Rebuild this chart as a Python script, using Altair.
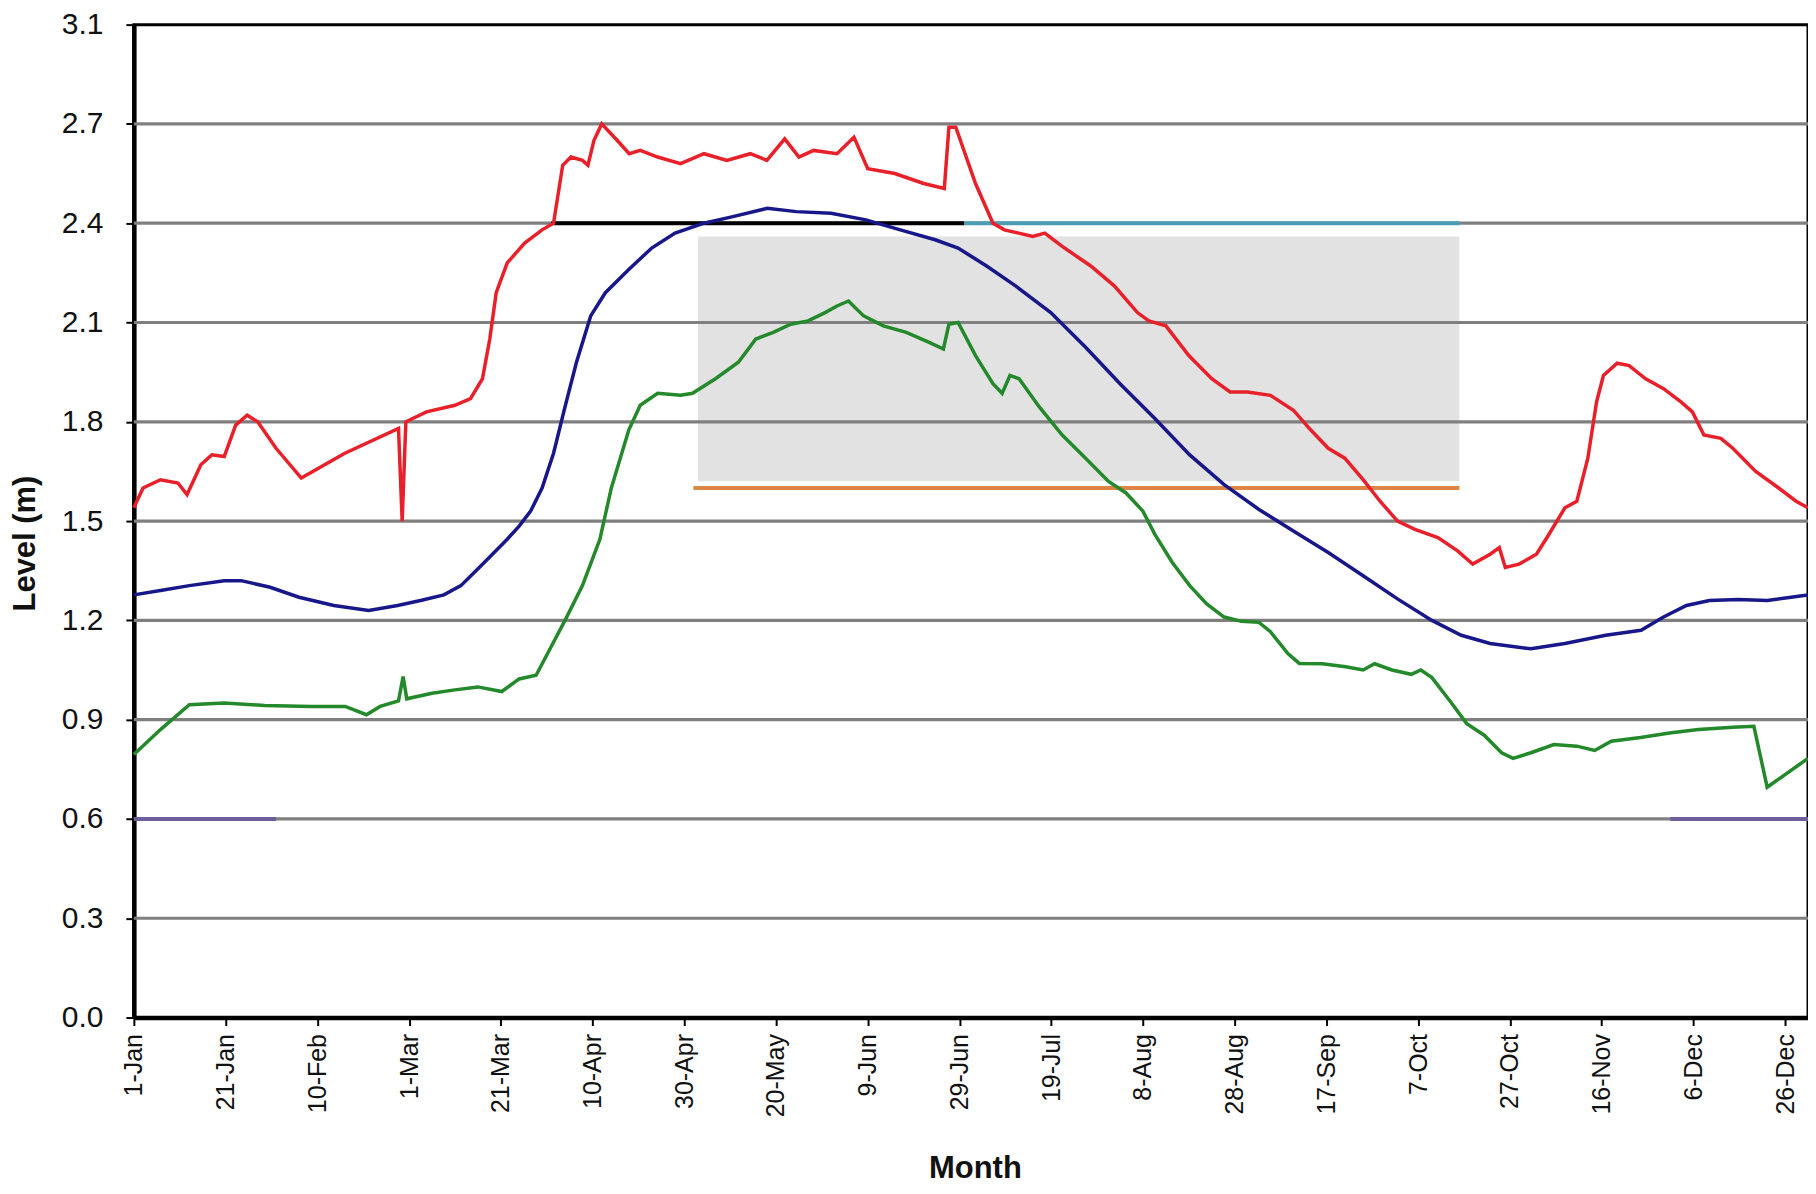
import altair as alt
import pandas as pd

# ---- data (day of a leap year, level in m) ----
red_day = [1, 3, 6.8, 10.6, 12.6, 15.6, 18, 20.7, 23.2, 25.7, 28, 32, 37.5, 47, 58.7, 59.5, 60.3,
           64.8, 71, 74.4, 77, 78.6, 80, 82.4, 86.2, 90, 92.5, 94.5, 96.3, 98.8, 100, 101.3, 103,
           106.4, 109, 111.4, 115.2, 120.2, 125.3, 130.3, 135.4, 139, 142.9, 146, 149.2, 154.3,
           158, 161, 166.9, 173.2, 177.7, 178.7, 180.2, 184.5, 188.3, 190.8, 197, 199.6, 203.4,
           209.7, 214.8, 219.8, 222.3, 226, 231, 236, 240, 243.8, 248.8, 253.8, 257.6, 261.4,
           265, 269, 272.7, 276.5, 280.3, 285.3, 289.6, 292.9, 296.7, 298.7, 300, 303, 306.8,
           309.3, 313, 315.6, 318, 319.9, 321.4, 324.4, 327, 330.6, 334.5, 338.3, 340.8, 343.3,
           347, 349.6, 354.6, 359.6, 363.4, 366]
red_level = [1.54, 1.60, 1.625, 1.615, 1.58, 1.67, 1.70, 1.695, 1.79, 1.82, 1.80, 1.72, 1.63, 1.705,
             1.78, 1.50, 1.80, 1.83, 1.85, 1.87, 1.93, 2.05, 2.19, 2.28, 2.34, 2.38, 2.40, 2.575,
             2.60, 2.59, 2.575, 2.65, 2.70, 2.65, 2.61, 2.62, 2.60, 2.58, 2.61, 2.59, 2.61, 2.59,
             2.655, 2.60, 2.62, 2.61, 2.66, 2.565, 2.55, 2.52, 2.505, 2.69, 2.69, 2.52, 2.40, 2.38,
             2.36, 2.37, 2.33, 2.27, 2.21, 2.13, 2.105, 2.09, 2.00, 1.93, 1.89, 1.89, 1.88, 1.835,
             1.775, 1.72, 1.69, 1.625, 1.56, 1.50, 1.475, 1.45, 1.41, 1.37, 1.40, 1.42, 1.36, 1.37,
             1.40, 1.455, 1.54, 1.56, 1.69, 1.86, 1.94, 1.977, 1.97, 1.93, 1.90, 1.86, 1.83, 1.76,
             1.75, 1.72, 1.65, 1.60, 1.56, 1.54]

blue_day = [1, 6.8, 13.1, 20.7, 24.4, 30.7, 37, 44.6, 52.2, 58.5, 63.5, 68.6, 72.3, 77.4, 82.4,
            85, 87.5, 90, 92.5, 95, 97.5, 100.6, 103.8, 108.9, 113.9, 119, 125.3, 131.6, 139.1, 145.4,
            153, 160.6, 168.1, 175.7, 180.7, 187, 193.3, 200.9, 208.5, 216, 223.6, 231.2, 238.7,
            246.3, 253.8, 261.4, 269, 276.5, 284, 290.4, 296.7, 305.6, 313, 321.9, 329.6, 334.5,
            339.5, 344.5, 350.8, 357.1, 366]
blue_level = [1.277, 1.29, 1.305, 1.32, 1.32, 1.30, 1.27, 1.245, 1.23, 1.245, 1.26, 1.277, 1.305,
              1.375, 1.445, 1.485, 1.53, 1.60, 1.705, 1.845, 1.98, 2.12, 2.19, 2.26, 2.325, 2.37, 2.40,
              2.42, 2.445, 2.435, 2.43, 2.41, 2.38, 2.35, 2.325, 2.27, 2.21, 2.13, 2.025, 1.915,
              1.81, 1.70, 1.61, 1.535, 1.47, 1.405, 1.335, 1.265, 1.20, 1.155, 1.13, 1.114, 1.13,
              1.155, 1.17, 1.21, 1.245, 1.26, 1.263, 1.26, 1.277]

green_day = [1, 6.8, 13.1, 20.7, 29.5, 39.6, 47.1, 51.7, 54.7, 58.7, 59.7, 60.5, 66, 71, 76, 81.2,
             85, 88.7, 91.2, 95, 98.8, 102.6, 105.1, 108.9, 111.4, 115.2, 120.2, 122.8, 127.8,
             132.8, 136.6, 140.4, 144.2, 148, 151.7, 154.3, 156.8, 160.1, 164.4, 169.4, 174.4,
             177.5, 178.7, 180.7, 184.5, 188.3, 190.3, 192, 194, 198.4, 203.4, 208.5, 213.5,
             217.3, 221, 223.6, 227.4, 231.2, 234.9, 238.7, 242.5, 246.3, 248.8, 252.6, 255.1,
             260.1, 265.2, 269, 271.5, 275.3, 279.5, 281.6, 284, 287.9, 291.6, 295.4, 299.2,
             301.7, 305.6, 310.6, 315.6, 319.5, 323.1, 329.5, 335.8, 342.1, 349.6, 354.2, 357.1, 366]
green_level = [0.795, 0.87, 0.945, 0.95, 0.943, 0.94, 0.94, 0.915, 0.94, 0.957, 1.03, 0.963, 0.98,
               0.99, 0.999, 0.985, 1.023, 1.034, 1.10, 1.20, 1.305, 1.445, 1.60, 1.775, 1.85,
               1.886, 1.88, 1.886, 1.93, 1.98, 2.05, 2.07, 2.095, 2.105, 2.13, 2.15, 2.165, 2.12,
               2.09, 2.07, 2.04, 2.02, 2.095, 2.10, 2.00, 1.915, 1.886, 1.94, 1.93, 1.845, 1.76,
               1.69, 1.62, 1.585, 1.53, 1.46, 1.375, 1.305, 1.25, 1.21, 1.197, 1.194, 1.166, 1.10,
               1.07, 1.069, 1.06, 1.05, 1.069, 1.05, 1.037, 1.05, 1.027, 0.957, 0.888, 0.853, 0.80,
               0.783, 0.80, 0.825, 0.82, 0.807, 0.835, 0.846, 0.86, 0.87, 0.877, 0.88, 0.696, 0.783]

# shaded band
box_start = [124]
box_end = [290]
box_low = [1.62]
box_high = [2.36]

# horizontal reference segments
ref_start = [92, 182, 123, 1, 336]
ref_end = [182, 290, 290, 32, 366]
ref_level = [2.4, 2.4, 1.6, 0.6, 0.6]
ref_color = ["#000000", "#4a9db3", "#dd8544", "#6e5e9e", "#6e5e9e"]

# axes
x_tick_days = [1, 21, 41, 61, 81, 101, 121, 141, 161, 181, 201, 221, 241, 261, 281, 301, 321, 341, 361]
x_tick_labels = ["1-Jan", "21-Jan", "10-Feb", "1-Mar", "21-Mar", "10-Apr", "30-Apr", "20-May",
                 "9-Jun", "29-Jun", "19-Jul", "8-Aug", "28-Aug", "17-Sep", "7-Oct", "27-Oct",
                 "16-Nov", "6-Dec", "26-Dec"]
y_tick_values = [0.0, 0.3, 0.6, 0.9, 1.2, 1.5, 1.8, 2.1, 2.4, 2.7, 3.0]
y_tick_labels = ["0.0", "0.3", "0.6", "0.9", "1.2", "1.5", "1.8", "2.1", "2.4", "2.7", "3.1"]
grid_values = y_tick_values[1:-1]

series_names = ["max", "mean", "min"]
series_colors = ["#e8202a", "#17178a", "#23892a"]

# ---- tables ----
lines_df = pd.concat([
    pd.DataFrame({"day": red_day, "level": red_level, "series": "max"}),
    pd.DataFrame({"day": blue_day, "level": blue_level, "series": "mean"}),
    pd.DataFrame({"day": green_day, "level": green_level, "series": "min"}),
], ignore_index=True)
lines_df["order"] = range(len(lines_df))

box_df = pd.DataFrame({"day": box_start, "day2": box_end, "level": box_low, "level2": box_high})
ref_df = pd.DataFrame({"day": ref_start, "day2": ref_end, "level": ref_level, "color": ref_color})
grid_df = pd.DataFrame({"level": grid_values})

x_label_expr = "[" + ",".join("'%s'" % s for s in x_tick_labels) + "][round((datum.value-1)/20)]"
y_label_expr = "[" + ",".join("'%s'" % s for s in y_tick_labels) + "][round(datum.value/0.3)]"

x_scale = alt.Scale(domain=[1, 366], nice=False, zero=False)
y_scale = alt.Scale(domain=[0, 3.0], nice=False)

x_axis = alt.Axis(
    values=x_tick_days, labelExpr=x_label_expr, labelAngle=-90, labelFontSize=25,
    labelColor="#111111", labelPadding=8, tickSize=8, tickColor="#000000", tickWidth=2,
    domainColor="#000000", domainWidth=4.5, grid=False,
    title="Month", titleFontSize=31, titleFontWeight="bold", titleColor="#111111",
    titleX=842, titleY=160, titleAlign="center", titleBaseline="alphabetic",
)
y_axis = alt.Axis(
    values=y_tick_values, labelExpr=y_label_expr, labelFontSize=30,
    labelFont="Liberation Sans Narrow, Liberation Sans", labelColor="#111111",
    labelPadding=23, tickSize=8, tickColor="#000000", tickWidth=2,
    domainColor="#000000", domainWidth=4.5, grid=False,
    title="Level (m)", titleFontSize=31, titleFontWeight="bold", titleColor="#111111",
    titleX=-108, titleY=519, titleAngle=-90, titleAlign="center", titleBaseline="middle",
)

X = alt.X("day:Q", scale=x_scale, axis=x_axis)
Y = alt.Y("level:Q", scale=y_scale, axis=y_axis)

box = alt.Chart(box_df).mark_rect(color="#e2e2e2").encode(
    x=X, x2="day2:Q", y=Y, y2="level2:Q")

grid = alt.Chart(grid_df).mark_rule(color="#7f7f7f", strokeWidth=3.2).encode(y=Y)

refs = alt.Chart(ref_df).mark_rule(strokeWidth=4).encode(
    x=X, x2="day2:Q", y=Y, color=alt.Color("color:N", scale=None))

lines = alt.Chart(lines_df).mark_line(strokeWidth=3.5).encode(
    x=X, y=Y,
    color=alt.Color("series:N", scale=alt.Scale(domain=series_names, range=series_colors), legend=None),
    order="order:Q",
)

chart = alt.layer(box, grid, refs, lines).properties(
    width=1676, height=994,
    autosize=alt.AutoSizeParams(type="none"),
    padding={"left": 126, "top": 16, "right": 0, "bottom": 168},
).configure(font="Liberation Sans").configure_view(
    stroke="#000000", strokeWidth=3
)

chart.save("out.html", embed_options={"renderer": "svg", "actions": False})
